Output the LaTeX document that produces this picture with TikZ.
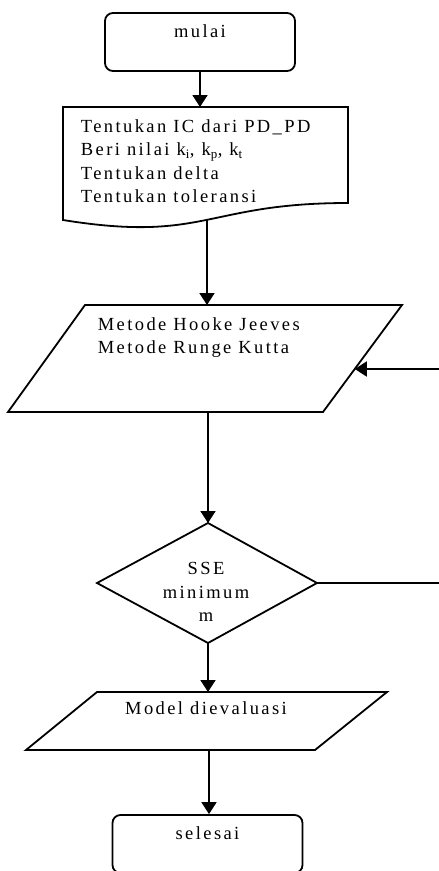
\documentclass[tikz,border=0pt]{standalone}
\usepackage{fontspec}
\setmainfont{Liberation Serif}[LetterSpace=13]
\usetikzlibrary{arrows.meta}

\begin{document}
\begin{tikzpicture}[x=1pt, y=-1pt, line width=1.8pt,
	txt/.style={font=\fontsize{18.5}{23.5}\selectfont, inner sep=0pt},
	terminal/.style={draw, rounded corners=8, minimum width=190, minimum height=58, text height=12.5, text depth=21.5, txt},
	arr/.style={-{Triangle[length=12pt, width=15pt]}}]
	
	\useasboundingbox (0,0) rectangle (439,871);
	
	% -----------------------------
	% Start
	% -----------------------------
	\node[terminal] (mulai) at (200,42) {mulai};
	
	% -----------------------------
	% Document (initial values)
	% -----------------------------
	\def\dT{107}
	\def\dL{63}
	\def\dR{348}
	\draw (\dL,\dT) -- (\dR,\dT) -- (\dR,203) .. controls (205.5,203) and (205.5,243) .. (\dL,220) -- cycle;
	\coordinate (docTop) at (205.5,\dT);
	\coordinate (docBot) at (207,218.5);
	\node[txt, align=left, anchor=north west] (docText) at (80,118.5)
	{Tentukan IC dari PD\_PD\\Beri nilai k\textsubscript{i}, k\textsubscript{p}, k\textsubscript{t}\\Tentukan delta\\Tentukan toleransi};
	
	% -----------------------------
	% Methods (parallelogram)
	% -----------------------------
	\draw (85,305) -- (402,305) -- (323,412) -- (8,412) -- cycle;
	\coordinate (hjTop) at (207,305);
	\coordinate (hjBot) at (208,412);
	\coordinate (hjIn) at (354.8,369);
	\node[txt, align=left, anchor=north west] (hjText) at (97,316.5)
	{Metode Hooke Jeeves\\Metode Runge Kutta};
	
	% -----------------------------
	% Decision
	% -----------------------------
	\draw (208,523) -- (317,583) -- (208,643) -- (97,583) -- cycle;
	\coordinate (sseTop) at (208,523);
	\coordinate (sseRight) at (317,583);
	\coordinate (sseBot) at (208,643);
	\node[txt, align=center, anchor=north] (sseText) at (206,561.5) {SSE\\minimum\\m};
	
	% -----------------------------
	% Output (parallelogram)
	% -----------------------------
	\draw (97,692) -- (387,692) -- (315,750) -- (26,750) -- cycle;
	\coordinate (evTop) at (208,692);
	\coordinate (evBot) at (209,750);
	\node[txt, anchor=base] (evText) at (206,714) {Model dievaluasi};
	
	% -----------------------------
	% End
	% -----------------------------
	\node[terminal] (selesai) at (207.5,844) {selesai};
	
	% Connectors
	\draw[arr] (mulai) -- (mulai |- docTop);
	\draw[arr] (docBot) -- (hjTop);
	\draw[arr] (hjBot) -- (sseTop);
	\draw[arr] (sseBot) -- (evTop);
	\draw[arr] (evBot) -- (evBot |- selesai.north);
	% loop back, its vertical part lies past the page edge
	\draw[arr] (sseRight) -- ++(125,0) |- (hjIn);
	
\end{tikzpicture}
\end{document}
